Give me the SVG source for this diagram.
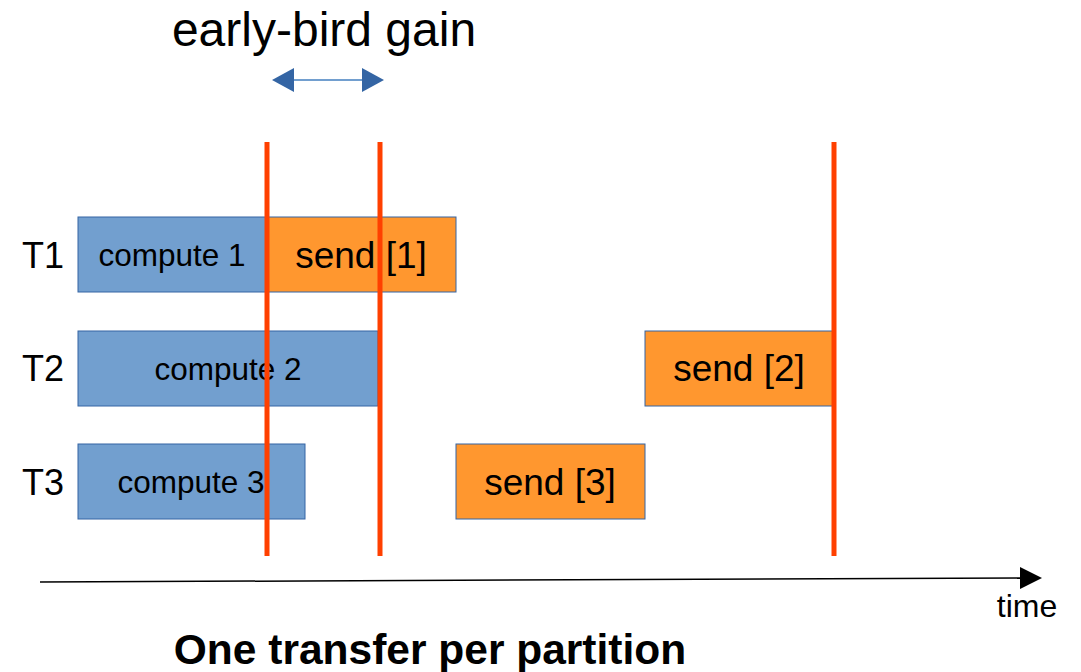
<svg xmlns="http://www.w3.org/2000/svg" width="1081" height="672" viewBox="0 0 1081 672">
  <style>
    text { font-family: "Liberation Sans", Arial, sans-serif; fill: #000; }
    .compute rect { fill: #729fcf; stroke: #3465a4; stroke-width: 1; }
    .send rect { fill: #ff972f; stroke: #3465a4; stroke-width: 1; }
    .lbl-c { font-size: 31.5px; text-anchor: middle; }
    .lbl-s { font-size: 37px; text-anchor: middle; }
    .row { font-size: 36px; }
    .marker-line { stroke: #ff4000; stroke-width: 5; }
  </style>
  <defs>
    <marker id="gainHead" viewBox="0 0 22 24" refX="0" refY="12" markerWidth="22" markerHeight="24" markerUnits="userSpaceOnUse" orient="auto-start-reverse">
      <path d="M0,0 L22,12 L0,24 Z" fill="#3465a4"/>
    </marker>
    <marker id="timeHead" viewBox="0 0 22 22" refX="0" refY="11" markerWidth="22" markerHeight="22" markerUnits="userSpaceOnUse" orient="auto">
      <path d="M0,0 L22,11 L0,22 Z" fill="#000"/>
    </marker>
  </defs>

  <rect width="1081" height="672" fill="#fff"/>

  <text x="324" y="46" font-size="48" text-anchor="middle">early-bird gain</text>

  <!-- row labels -->
  <text class="row" x="22" y="268">T1</text>
  <text class="row" x="22" y="381">T2</text>
  <text class="row" x="22" y="495">T3</text>

  <g id="compute1" class="compute"><rect x="78" y="217" width="189" height="75"/><text class="lbl-c" x="172" y="266">compute 1</text></g>
  <g id="send1" class="send"><rect x="267" y="217" width="189" height="75"/><text class="lbl-s" x="361" y="268">send [1]</text></g>
  <g id="compute2" class="compute"><rect x="78" y="331" width="300" height="75"/><text class="lbl-c" x="228" y="380">compute 2</text></g>
  <g id="send2" class="send"><rect x="645" y="331" width="189" height="75"/><text class="lbl-s" x="739" y="381">send [2]</text></g>
  <g id="compute3" class="compute"><rect x="78" y="444" width="227" height="75"/><text class="lbl-c" x="191" y="493">compute 3</text></g>
  <g id="send3" class="send"><rect x="456" y="444" width="189" height="75"/><text class="lbl-s" x="550" y="495">send [3]</text></g>

  <g id="connectors">
    <!-- completion markers -->
    <line class="marker-line" x1="267" y1="142" x2="267" y2="556"/>
    <line class="marker-line" x1="380" y1="142" x2="380" y2="556"/>
    <line class="marker-line" x1="834" y1="142" x2="834" y2="556"/>
    <!-- gain span -->
    <line x1="294" y1="80" x2="362" y2="80" stroke="#729fcf" stroke-width="2" marker-start="url(#gainHead)" marker-end="url(#gainHead)"/>
    <!-- time axis -->
    <line x1="40" y1="582" x2="1020" y2="578" stroke="#000" stroke-width="1.5" marker-end="url(#timeHead)"/>
  </g>

  <text x="1027" y="617" font-size="32" text-anchor="middle">time</text>
  <text x="430" y="664" font-size="42.5" font-weight="bold" text-anchor="middle">One transfer per partition</text>
</svg>
